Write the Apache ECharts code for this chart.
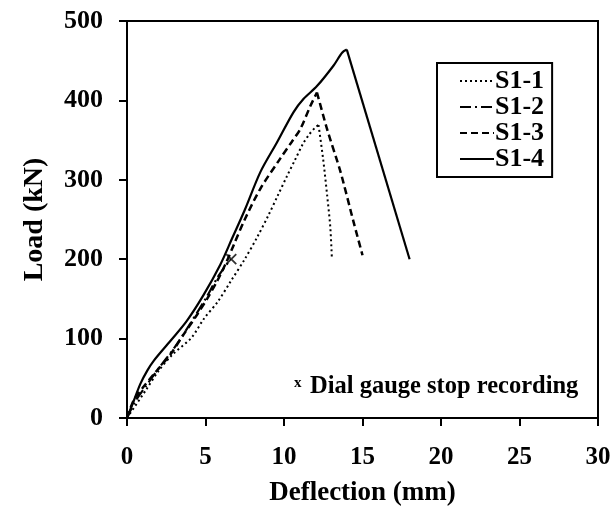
<!DOCTYPE html>
<html>
<head>
<meta charset="utf-8">
<script src="https://cdn.jsdelivr.net/npm/echarts@6/dist/echarts.min.js"></script>
<style>
html,body{margin:0;padding:0;background:#fff;}
#chart{width:614px;height:512px;}
</style>
</head>
<body>
<div id="chart"></div>
<script>
// Data (deflection in mm, load in kN)
// S1-1: rising branch and post-peak branch
const s11RiseX = [0, 1.2, 2.0, 2.9, 4.1, 4.9, 5.8, 6.6, 7.5, 8.3, 9.0, 9.6, 10.2, 10.7, 11.2, 11.6, 12.0, 12.2];
const s11RiseY = [0, 35, 59, 80, 101, 125, 147, 172, 200, 228, 255, 280, 305, 325, 345, 357, 366, 369];
const s11FallX = [12.2, 12.5, 12.75, 12.95, 13.05];
const s11FallY = [369, 325, 280, 240, 200];

// S1-2: recorded until the dial gauge stopped
const s12X = [0, 0.5, 1.2, 2.0, 3.0, 4.0, 5.0, 5.8, 6.6];
const s12Y = [0, 20, 40, 62, 88, 118, 150, 178, 200];

// S1-3
const s13RiseX = [0, 0.42, 1.0, 1.7, 2.76, 3.6, 4.46, 5.1, 5.73, 6.3, 6.8, 7.5, 8.5, 9.77, 10.5, 11.04, 11.68, 12.1];
const s13RiseY = [0, 22, 38, 55, 80, 105, 130, 150, 172, 195, 218, 250, 289, 327, 348, 364, 393, 410];
const s13FallX = [12.1, 12.74, 13.6, 14.43, 15.0];
const s13FallY = [410, 364, 310, 247, 205];

// S1-4
const s14RiseX = [0, 0.4, 0.85, 1.3, 1.7, 2.76, 3.8, 4.88, 5.94, 6.69, 7.5, 8.5, 9.55, 10.6, 11.25, 12.1, 13.16, 13.7, 14.0];
const s14RiseY = [0, 20, 43, 60, 72, 97, 122, 155, 193, 226, 262, 310, 347, 385, 402, 418, 444, 460, 464];
const s14FallX = [14.0, 18.0];
const s14FallY = [464, 200];

// dial gauge stop point
const stopX = [6.64];
const stopY = [200];

const seriesNames = ['S1-1', 'S1-2', 'S1-3', 'S1-4'];
const xTicks = {min: 0, max: 30, interval: 5};
const yTicks = {min: 0, max: 500, interval: 100};
const xTitle = 'Deflection (mm)';
const yTitle = 'Load (kN)';
const noteMark = 'x';
const noteText = 'Dial gauge stop recording';

const zip = (xs, ys) => xs.map((x, i) => [x, ys[i]]);
const FONT = 'Liberation Serif';

const styles = {
  'S1-1': {color: '#000', width: 2, type: [2, 3]},
  'S1-2': {color: '#000', width: 2.2, type: [11, 4, 2, 4]},
  'S1-3': {color: '#000', width: 2.5, type: [7, 4]},
  'S1-4': {color: '#000', width: 2.2, type: 'solid'}
};
function lineSeries(name, xs, ys, smooth) {
  return {
    name: name, type: 'line', data: zip(xs, ys),
    showSymbol: false, symbol: 'none',
    smooth: smooth,
    lineStyle: styles[name], itemStyle: {color: '#000'}
  };
}

const chart = echarts.init(document.getElementById('chart'));
chart.setOption({
  animation: false,
  backgroundColor: '#fff',
  grid: {left: 127, right: 16, top: 21, bottom: 91, show: true, borderColor: '#000', borderWidth: 2},
  xAxis: {
    type: 'value', min: xTicks.min, max: xTicks.max, interval: xTicks.interval,
    name: xTitle, nameLocation: 'middle', nameGap: 62,
    nameTextStyle: {fontFamily: FONT, fontWeight: 'bold', fontSize: 27, color: '#000'},
    axisLine: {show: true, onZero: false, lineStyle: {color: '#000', width: 2}},
    axisTick: {show: true, inside: false, length: 8, lineStyle: {color: '#000', width: 2}},
    axisLabel: {margin: 27, fontFamily: FONT, fontWeight: 'bold', fontSize: 25, color: '#000'},
    splitLine: {show: false}
  },
  yAxis: {
    type: 'value', min: yTicks.min, max: yTicks.max, interval: yTicks.interval,
    name: yTitle, nameLocation: 'middle', nameGap: 78,
    nameTextStyle: {fontFamily: FONT, fontWeight: 'bold', fontSize: 28, color: '#000'},
    axisLine: {show: true, onZero: false, lineStyle: {color: '#000', width: 2}},
    axisTick: {show: true, inside: false, length: 8, lineStyle: {color: '#000', width: 2}},
    axisLabel: {margin: 24, fontFamily: FONT, fontWeight: 'bold', fontSize: 26, color: '#000'},
    splitLine: {show: false}
  },
  legend: {
    data: seriesNames,
    orient: 'vertical', left: 437, top: 63,
    itemWidth: 34, itemHeight: 14, itemGap: 0,
    borderColor: '#000', borderWidth: 2, borderRadius: 0,
    padding: [5, 8, 5, 22],
    itemStyle: {opacity: 0},
    textStyle: {fontFamily: FONT, fontWeight: 'bold', fontSize: 26, color: '#000', padding: [0, 0, 0, -4]}
  },
  series: [
    lineSeries('S1-1', s11RiseX, s11RiseY, 0.3),
    lineSeries('S1-1', s11FallX, s11FallY, 0.3),
    lineSeries('S1-2', s12X, s12Y, 0.3),
    lineSeries('S1-3', s13RiseX, s13RiseY, 0.3),
    lineSeries('S1-3', s13FallX, s13FallY, 0.2),
    lineSeries('S1-4', s14RiseX, s14RiseY, 0.3),
    lineSeries('S1-4', s14FallX, s14FallY, false),
    {name: 'stop', type: 'scatter', data: zip(stopX, stopY),
     symbol: 'path://M0,0L10,10M10,0L0,10', symbolSize: 10,
     itemStyle: {color: 'rgba(0,0,0,0)', borderColor: '#000', borderWidth: 1.8}}
  ],
  graphic: [
    {type: 'text', left: 294, top: 376, style: {text: noteMark, font: 'bold 15px "Liberation Serif"', fill: '#000'}},
    {type: 'text', left: 310, top: 374, style: {text: noteText, font: 'bold 24.5px "Liberation Serif"', fill: '#000'}}
  ]
});
</script>
</body>
</html>
